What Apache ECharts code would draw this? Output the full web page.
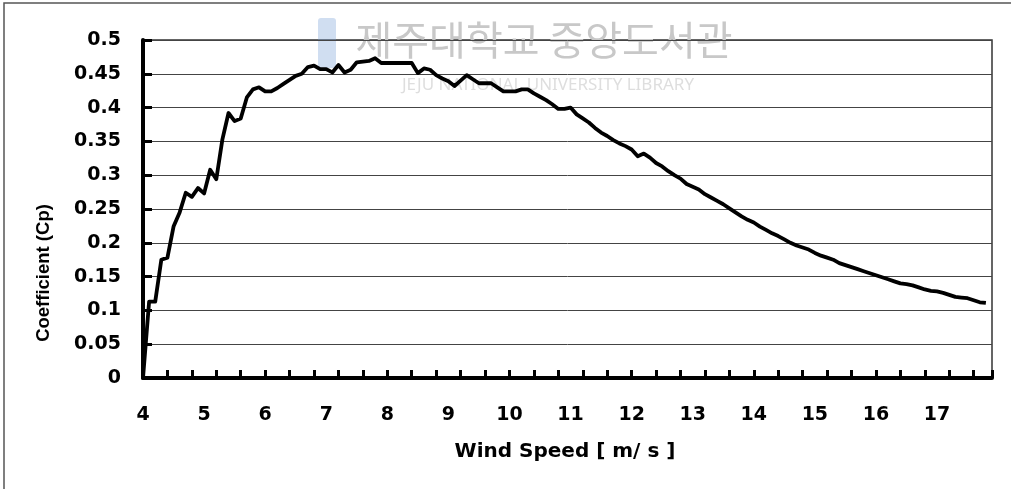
<!DOCTYPE html>
<html>
<head>
<meta charset="utf-8">
<title>Coefficient (Cp) vs Wind Speed</title>
<script src="https://cdn.jsdelivr.net/npm/echarts@6/dist/echarts.min.js"></script>
<style>
  html, body { margin: 0; padding: 0; background: #fff; }
  #chart_cp { width: 1011px; height: 489px; }
</style>
</head>
<body>
<div id="chart_cp"></div>
<script>
// Velocidad del viento (m/s), paso de 0.1
var windSpeed = [
    4.0, 4.1, 4.2, 4.3, 4.4, 4.5, 4.6, 4.7, 4.8, 4.9,
    5.0, 5.1, 5.2, 5.3, 5.4, 5.5, 5.6, 5.7, 5.8, 5.9,
    6.0, 6.1, 6.2, 6.3, 6.4, 6.5, 6.6, 6.7, 6.8, 6.9,
    7.0, 7.1, 7.2, 7.3, 7.4, 7.5, 7.6, 7.7, 7.8, 7.9,
    8.0, 8.1, 8.2, 8.3, 8.4, 8.5, 8.6, 8.7, 8.8, 8.9,
    9.0, 9.1, 9.2, 9.3, 9.4, 9.5, 9.6, 9.7, 9.8, 9.9,
    10.0, 10.1, 10.2, 10.3, 10.4, 10.5, 10.6, 10.7, 10.8, 10.9,
    11.0, 11.1, 11.2, 11.3, 11.4, 11.5, 11.6, 11.7, 11.8, 11.9,
    12.0, 12.1, 12.2, 12.3, 12.4, 12.5, 12.6, 12.7, 12.8, 12.9,
    13.0, 13.1, 13.2, 13.3, 13.4, 13.5, 13.6, 13.7, 13.8, 13.9,
    14.0, 14.1, 14.2, 14.3, 14.4, 14.5, 14.6, 14.7, 14.8, 14.9,
    15.0, 15.1, 15.2, 15.3, 15.4, 15.5, 15.6, 15.7, 15.8, 15.9,
    16.0, 16.1, 16.2, 16.3, 16.4, 16.5, 16.6, 16.7, 16.8, 16.9,
    17.0, 17.1, 17.2, 17.3, 17.4, 17.5, 17.6, 17.7, 17.8
];

// Coeficiente de potencia Cp
var cpValues = [
    0.000, 0.113, 0.113, 0.175, 0.178, 0.224, 0.245, 0.274, 0.268, 0.281,
    0.273, 0.308, 0.294, 0.353, 0.392, 0.380, 0.384, 0.415, 0.427, 0.430,
    0.424, 0.424, 0.429, 0.435, 0.441, 0.447, 0.450, 0.460, 0.462, 0.457,
    0.457, 0.452, 0.463, 0.452, 0.456, 0.467, 0.468, 0.469, 0.473, 0.466,
    0.466, 0.466, 0.466, 0.466, 0.466, 0.451, 0.458, 0.456, 0.448, 0.443,
    0.439, 0.432, 0.440, 0.448, 0.442, 0.436, 0.436, 0.436, 0.430, 0.424,
    0.424, 0.424, 0.427, 0.427, 0.421, 0.416, 0.411, 0.405, 0.398, 0.398,
    0.400, 0.390, 0.384, 0.378, 0.370, 0.363, 0.358, 0.352, 0.347, 0.343,
    0.338, 0.328, 0.332, 0.326, 0.318, 0.313, 0.306, 0.300, 0.295, 0.287,
    0.283, 0.279, 0.272, 0.267, 0.262, 0.257, 0.251, 0.245, 0.239, 0.234,
    0.230, 0.224, 0.219, 0.214, 0.210, 0.205, 0.200, 0.196, 0.193, 0.190,
    0.185, 0.181, 0.178, 0.175, 0.170, 0.167, 0.164, 0.161, 0.158, 0.155,
    0.152, 0.149, 0.146, 0.143, 0.140, 0.139, 0.137, 0.134, 0.131, 0.129,
    0.128, 0.126, 0.123, 0.120, 0.119, 0.118, 0.115, 0.112, 0.111
];

// Rango de ejes
var xMin = 4, xMax = 17.9, xLabelStep = 1, xTickStep = 0.4;
var yMin = 0, yMax = 0.5, yStep = 0.05;

var xTitle = 'Wind Speed [ m/ s ]';
var yTitle = 'Coefficient (Cp)';
var watermarkKo = '제주대학교 중앙도서관';
var watermarkEn = 'JEJU NATIONAL UNIVERSITY LIBRARY';

(function () {
    var el = document.getElementById('chart_cp');
    var chart = echarts.init(el, null, { renderer: 'canvas' });

    var puntos = windSpeed.map(function (ws, i) {
        return [ws, cpValues[i]];
    });

    var labelFont = { color: '#000', fontSize: 19, fontWeight: 'bold', fontFamily: 'DejaVu Sans' };

    var option = {
        animation: false,
        backgroundColor: '#fff',
        grid: {
            left: 143, right: 19, top: 40, bottom: 111,
            show: true, borderColor: '#333', borderWidth: 1.5, backgroundColor: 'transparent'
        },
        xAxis: [
            {
                type: 'value', min: xMin, max: xMax, interval: xLabelStep,
                axisLine: { show: true, onZero: false, lineStyle: { color: '#000', width: 4 } },
                axisTick: { show: false },
                splitLine: { show: false },
                axisLabel: Object.assign({ margin: 28, showMaxLabel: false }, labelFont)
            },
            {
                // marcas menores cada 0.4
                type: 'value', min: xMin, max: xMax, interval: xTickStep, position: 'bottom',
                axisLine: { show: false },
                axisTick: { show: true, inside: true, length: 8, lineStyle: { color: '#000', width: 3 } },
                axisLabel: { show: false },
                splitLine: { show: false }
            }
        ],
        yAxis: {
            type: 'value', min: yMin, max: yMax, interval: yStep,
            axisLine: { show: true, lineStyle: { color: '#000', width: 4 } },
            axisTick: { show: true, inside: true, length: 9, lineStyle: { color: '#000', width: 3 } },
            splitLine: { show: true, lineStyle: { color: '#444', width: 1 } },
            axisLabel: Object.assign({ margin: 22 }, labelFont)
        },
        graphic: [
            // marco exterior
            { type: 'rect', z: 0, shape: { x: 4, y: 3, width: 1030, height: 500 },
              style: { fill: null, stroke: '#555', lineWidth: 1.5 } },
            // marca de agua
            { type: 'rect', z: 0, shape: { x: 318, y: 18, width: 18, height: 50, r: 3 },
              style: { fill: 'rgba(120,160,215,0.35)' } },
            { type: 'text', z: 0, x: 544, y: 40,
              style: { text: watermarkKo, textAlign: 'center', textVerticalAlign: 'middle',
                       font: '40px "Noto Sans CJK KR"', fill: '#c8c8c8' } },
            { type: 'text', z: 0, x: 548, y: 85,
              style: { text: watermarkEn, textAlign: 'center', textVerticalAlign: 'middle',
                       font: '17px "Noto Sans"', fill: '#dedede' } },
            // títulos de ejes
            { type: 'text', z: 10, x: 565, y: 452,
              style: { text: xTitle, textAlign: 'center', textVerticalAlign: 'middle',
                       font: 'bold 20px "DejaVu Sans"', fill: '#000' } },
            { type: 'text', z: 10, x: 44, y: 273, rotation: Math.PI / 2,
              style: { text: yTitle, textAlign: 'center', textVerticalAlign: 'middle',
                       font: 'bold 18.5px "Liberation Sans"', fill: '#000' } }
        ],
        series: [{
            name: 'Cp',
            type: 'line',
            xAxisIndex: 0,
            data: puntos,
            symbol: 'none',
            z: 5,
            lineStyle: { color: '#000', width: 3.8, join: 'round' }
        }]
    };

    chart.setOption(option);
})();
</script>
</body>
</html>
